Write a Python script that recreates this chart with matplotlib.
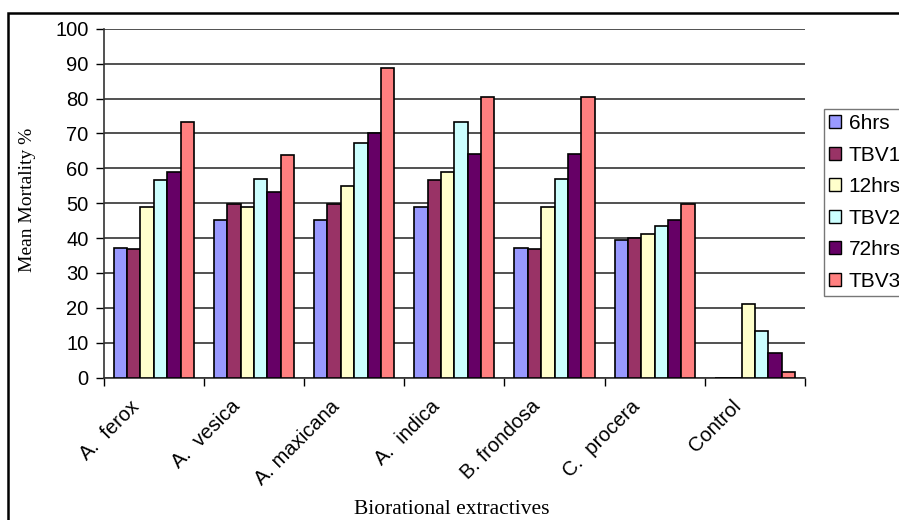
import matplotlib
matplotlib.use('Agg')
import matplotlib.pyplot as plt
from matplotlib.patches import Patch, Rectangle
import numpy as np

plt.rcParams.update({
    'font.family': 'sans-serif',
    'font.sans-serif': ['Liberation Sans', 'DejaVu Sans'],
    'font.size': 12,
})

# mean mortality (%) per extract and observation
extracts = ['A.  ferox', 'A.  vesica', 'A. maxicana', 'A.  indica',
            'B. frondosa', 'C.  procera', 'Control']
series = ['6hrs', 'TBV1', '12hrs', 'TBV2', '72hrs', 'TBV3']
hrs6 = [37.1, 45.3, 45.3, 49.0, 37.1, 39.4, 0.0]
tbv1 = [36.8, 49.7, 49.7, 56.6, 36.8, 39.9, 0.0]
hrs12 = [49.0, 49.0, 55.0, 59.0, 49.0, 41.2, 21.2]
tbv2 = [56.6, 56.8, 67.2, 73.4, 56.8, 43.4, 13.4]
hrs72 = [59.0, 53.1, 70.0, 64.0, 64.0, 45.3, 7.1]
tbv3 = [73.4, 63.7, 88.7, 80.5, 80.5, 49.7, 1.5]
values = [hrs6, tbv1, hrs12, tbv2, hrs72, tbv3]
colors = ['#9999FF', '#993366', '#FFFFCC', '#CCFFFF', '#660066', '#FF8080']

W, H = 899, 520
fig = plt.figure(figsize=(W / 100, H / 100), dpi=100)
ax = fig.add_axes([103.7 / W, (H - 377.7) / H, (805 - 103.7) / W, (377.7 - 28.7) / H])

n = len(series)
bw = 0.8 / n
x = np.arange(len(extracts))
for i, (vals, c) in enumerate(zip(values, colors)):
    ax.bar(x + 0.1 + bw * (i + 0.5), vals, width=bw, color=c,
           edgecolor='black', linewidth=1.2, zorder=3)

ax.set_xlim(0, len(extracts))
ax.set_ylim(0, 100)
ax.set_yticks(np.arange(0, 101, 10))
ax.yaxis.grid(True, color='#222222', lw=1.1, zorder=0)
ax.tick_params(axis='y', direction='out', length=6, width=1, labelsize=14.5, pad=5)

# ticks at group boundaries, names under each group
ax.set_xticks(np.arange(len(extracts) + 1))
ax.set_xticklabels([])
ax.tick_params(axis='x', direction='out', length=6, width=1)
px = 72 / 100
for xi, name in zip(x, extracts):
    ax.annotate(name, xy=(xi + 0.5, 0), xycoords=('data', 'axes fraction'),
                xytext=(-24 * px, -19 * px), textcoords='offset points',
                rotation=45, ha='right', va='top', rotation_mode='anchor',
                fontsize=14.5)

for s in ['top', 'right']:
    ax.spines[s].set_visible(False)
for s in ['left', 'bottom']:
    ax.spines[s].set_color('#333333')
    ax.spines[s].set_linewidth(1.2)

fig.text(28 / W, 1 - 200 / H, 'Mean Mortality %', rotation=90, ha='center',
         va='center', family='Liberation Serif', fontsize=14)
fig.text(452 / W, 1 - 510 / H, 'Biorational extractives', ha='center',
         va='center', family='Liberation Serif', fontsize=15.5)

# legend box runs past the right edge of the figure
handles = [Patch(facecolor=c, edgecolor='black', lw=1) for c in colors]
leg = fig.legend(handles, series, loc='upper left',
                 bbox_to_anchor=(824 / W, 1 - 109 / H), bbox_transform=fig.transFigure,
                 fancybox=False, frameon=True, fontsize=15, handlelength=0.58,
                 handleheight=0.58, handletextpad=0.35, labelspacing=0.6,
                 borderpad=0.25, borderaxespad=0)
leg.get_frame().set_edgecolor('#555555')
leg.get_frame().set_linewidth(1)

# outer frame, running off the right and bottom edges
fig.patches.append(Rectangle((8.3 / W, -0.2), 1.2, 1 - 13 / H + 0.2,
                             transform=fig.transFigure, fill=False,
                             edgecolor='black', lw=1.8))

fig.savefig('out.png', dpi=100)
